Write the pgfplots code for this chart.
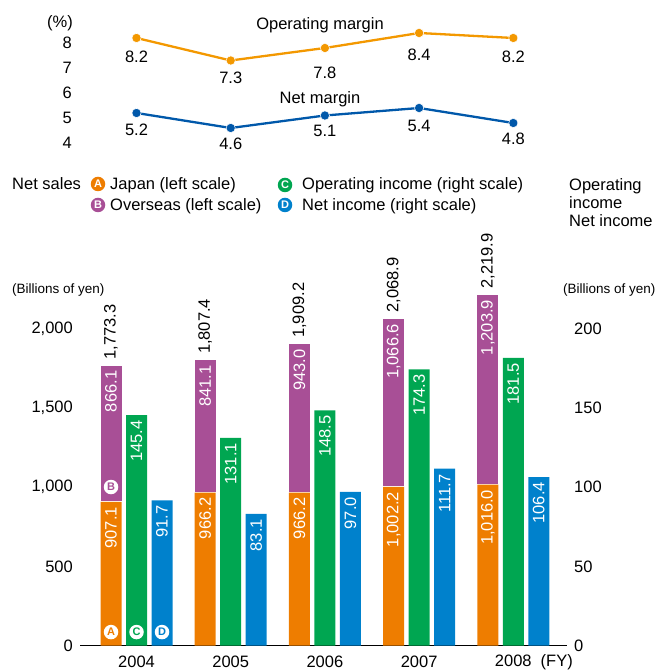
\documentclass[border=0pt]{standalone}
\usepackage{pgfplots}
\pgfplotsset{compat=1.18}
\usepackage{pgfplotstable}
\usepackage{fontspec}
\setmainfont{Liberation Sans}

\definecolor{jpn}{HTML}{EE7D00}
\definecolor{ovs}{HTML}{A84F96}
\definecolor{opi}{HTML}{00A651}
\definecolor{neti}{HTML}{0081CC}
\definecolor{opm}{HTML}{F39800}
\definecolor{ntm}{HTML}{0058AA}

\newcommand{\lbl}{\fontsize{16.5}{19}\selectfont}
\newcommand{\sml}{\fontsize{13.5}{16}\selectfont}

% Net sales: Japan and overseas (left scale), with the printed total
\pgfplotstableread{
x jp ov tot jplab ovlab totlab
0 907.1 866.1 1773.3 907.1 866.1 1,773.3
1 966.2 841.1 1807.4 966.2 841.1 1,807.4
2 966.2 943.0 1909.2 966.2 943.0 1,909.2
3 1002.2 1066.6 2068.9 1,002.2 1,066.6 2,068.9
4 1016.0 1203.9 2219.9 1,016.0 1,203.9 2,219.9
}\sales
% Operating income (right scale)
\pgfplotstableread{
x y lab
0 145.4 145.4
1 131.1 131.1
2 148.5 148.5
3 174.3 174.3
4 181.5 181.5
}\opinc
% Net income (right scale)
\pgfplotstableread{
x y lab
0 91.7 91.7
1 83.1 83.1
2 97.0 97.0
3 111.7 111.7
4 106.4 106.4
}\netinc
% Margins in %, with the drop of each value label below its point
\pgfplotstableread{
x y off
0 8.2 19
1 7.3 17.5
2 7.8 25
3 8.4 22
4 8.2 18.5
}\opmargin
\pgfplotstableread{
x y off
0 5.2 16.5
1 4.6 16
2 5.1 15
3 5.4 18.3
4 4.8 16
}\netmargin

\tikzset{
  inbar/.style={font=\lbl, text=white, rotate=90, anchor=east, inner xsep=5pt, inner ysep=0pt},
  circ/.style={circle, fill=white, inner sep=0pt, minimum size=14.5pt, font=\fontsize{11}{11}\selectfont\bfseries},
  lgc/.style={circle, fill=#1, text=white, inner sep=0pt, minimum size=14.5pt, font=\fontsize{11}{11}\selectfont\bfseries},
}

\begin{document}
\begin{tikzpicture}
\path[use as bounding box] (0,0) rectangle (656pt,671pt);

% ---------- margins ----------
\begin{axis}[
  at={(80pt,518pt)}, anchor=south west,
  width=487pt, height=130pt, scale only axis,
  xmin=-0.6, xmax=4.57, ymin=3.6, ymax=8.8,
  axis line style={draw=none}, major tick length=0pt,
  xtick=\empty, ytick={4,5,6,7,8},
  yticklabel style={font=\lbl, anchor=east, inner sep=0pt, xshift=-8pt},
  /pgf/number format/assume math mode=true,
  clip=false,
]
\addplot[opm, line width=2.3pt, mark=*, mark size=4.6pt,
  mark options={draw=white, line width=0.5pt, fill=opm},
  visualization depends on={\thisrow{off}\as\drop},
  nodes near coords={\pgfmathprintnumber[fixed,fixed zerofill,precision=1,assume math mode=true]{\pgfplotspointmeta}},
  nodes near coords style={font=\lbl, text=black, anchor=center, yshift=-\drop pt}]
  table[x=x, y=y] {\opmargin};
\addplot[ntm, line width=2.3pt, mark=*, mark size=4.6pt,
  mark options={draw=white, line width=0.5pt, fill=ntm},
  visualization depends on={\thisrow{off}\as\drop},
  nodes near coords={\pgfmathprintnumber[fixed,fixed zerofill,precision=1,assume math mode=true]{\pgfplotspointmeta}},
  nodes near coords style={font=\lbl, text=black, anchor=center, yshift=-\drop pt}]
  table[x=x, y=y] {\netmargin};
\end{axis}
\node[font=\lbl, anchor=east, inner sep=0pt] at (73pt,648pt) {(\%)};
\node[font=\lbl, inner sep=0pt] at (320pt,646pt) {Operating margin};
\node[font=\lbl, inner sep=0pt] at (320pt,572pt) {Net margin};

% ---------- legend ----------
\node[font=\lbl, anchor=base west, inner sep=0pt] at (12pt,481pt) {Net sales};
\node[lgc=jpn] at (98pt,487pt) {A};
\node[lgc=ovs] at (98pt,466pt) {B};
\node[lgc=opi] at (285pt,486pt) {C};
\node[lgc=neti] at (285pt,466pt) {D};
\node[font=\lbl, anchor=base west, inner sep=0pt] at (110pt,481pt) {Japan (left scale)};
\node[font=\lbl, anchor=base west, inner sep=0pt] at (110pt,460pt) {Overseas (left scale)};
\node[font=\lbl, anchor=base west, inner sep=0pt] at (302pt,481pt) {Operating income (right scale)};
\node[font=\lbl, anchor=base west, inner sep=0pt] at (302pt,460pt) {Net income (right scale)};
\node[font=\lbl, anchor=base west, inner sep=0pt] at (569pt,480pt) {Operating};
\node[font=\lbl, anchor=base west, inner sep=0pt] at (569pt,462pt) {income};
\node[font=\lbl, anchor=base west, inner sep=0pt] at (569pt,444pt) {Net income};
\node[font=\sml, anchor=base west, inner sep=0pt] at (12pt,377pt) {(Billions of yen)};
\node[font=\sml, anchor=base west, inner sep=0pt] at (563pt,377pt) {(Billions of yen)};

% ---------- net sales, stacked bars (left scale) ----------
\begin{axis}[
  at={(80pt,25.3pt)}, anchor=south west,
  width=487pt, height=364.6pt, scale only axis,
  xmin=-0.6, xmax=4.57, ymin=0, ymax=2300,
  ybar stacked, bar width=21pt,
  axis x line*=bottom, axis y line*=left,
  y axis line style={draw=none},
  x axis line style={-, line width=1.1pt},
  major tick length=0pt,
  xtick={0,1,2,3,4},
  xticklabels={2004,2005,2006,2007,2008\rlap{\hspace{0.55em}(FY)}},
  xticklabel style={font=\lbl, anchor=center, yshift=-16.5pt},
  ytick={0,500,1000,1500,2000},
  yticklabel style={font=\lbl, anchor=east, inner sep=0pt, xshift=-7pt},
  scaled y ticks=false,
  /pgf/number format/assume math mode=true,
  clip=false,
]
\addplot[fill=jpn, draw=none, bar shift=-25.5pt] table[x=x, y=jp] {\sales};
\addplot[fill=ovs, draw=white, line width=2pt, bar width=23pt, bar shift=-25.5pt]
  table[x=x, y=ov] {\sales};
\end{axis}

% ---------- value labels of the net sales bars ----------
\begin{axis}[
  at={(80pt,25.3pt)}, anchor=south west,
  width=487pt, height=364.6pt, scale only axis,
  xmin=-0.6, xmax=4.57, ymin=0, ymax=2300,
  hide axis, ybar, bar width=21pt, clip=false,
]
\addplot[draw=none, fill=none, bar shift=-25.5pt,
  nodes near coords, point meta=explicit symbolic,
  nodes near coords style={inbar}]
  table[x=x, y=jp, meta=jplab] {\sales};
\addplot[draw=none, fill=none, bar shift=-25.5pt,
  nodes near coords, point meta=explicit symbolic,
  nodes near coords style={inbar, inner xsep=6pt}]
  table[x=x, y=tot, meta=ovlab] {\sales};
\addplot[draw=none, fill=none, bar shift=-25.5pt,
  nodes near coords, point meta=explicit symbolic,
  nodes near coords style={font=\lbl, text=black, rotate=90, anchor=west, inner xsep=5pt, inner ysep=0pt}]
  table[x=x, y=tot, meta=totlab] {\sales};
\node[circ, text=jpn, xshift=-25.5pt] at (axis cs:0,86) {A};
\node[circ, text=ovs, xshift=-25.5pt] at (axis cs:0,1001) {B};
\end{axis}

% ---------- operating and net income (right scale) ----------
\begin{axis}[
  at={(80pt,25.3pt)}, anchor=south west,
  width=487pt, height=364.6pt, scale only axis,
  xmin=-0.6, xmax=4.57, ymin=0, ymax=230,
  axis x line=none, axis y line*=right,
  y axis line style={draw=none},
  major tick length=0pt, xtick=\empty,
  ytick={0,50,100,150,200},
  yticklabel style={font=\lbl, anchor=west, inner sep=0pt, xshift=7pt},
  /pgf/number format/assume math mode=true,
  ybar, bar width=21pt, clip=false,
]
\addplot[fill=opi, draw=none, bar shift=0pt,
  nodes near coords, point meta=explicit symbolic,
  nodes near coords style={inbar}]
  table[x=x, y=y, meta=lab] {\opinc};
\addplot[fill=neti, draw=none, bar shift=25.5pt,
  nodes near coords, point meta=explicit symbolic,
  nodes near coords style={inbar}]
  table[x=x, y=y, meta=lab] {\netinc};
\node[circ, text=opi] at (axis cs:0,8.6) {C};
\node[circ, text=neti, xshift=25.5pt] at (axis cs:0,8.6) {D};
\end{axis}
\end{tikzpicture}
\end{document}
